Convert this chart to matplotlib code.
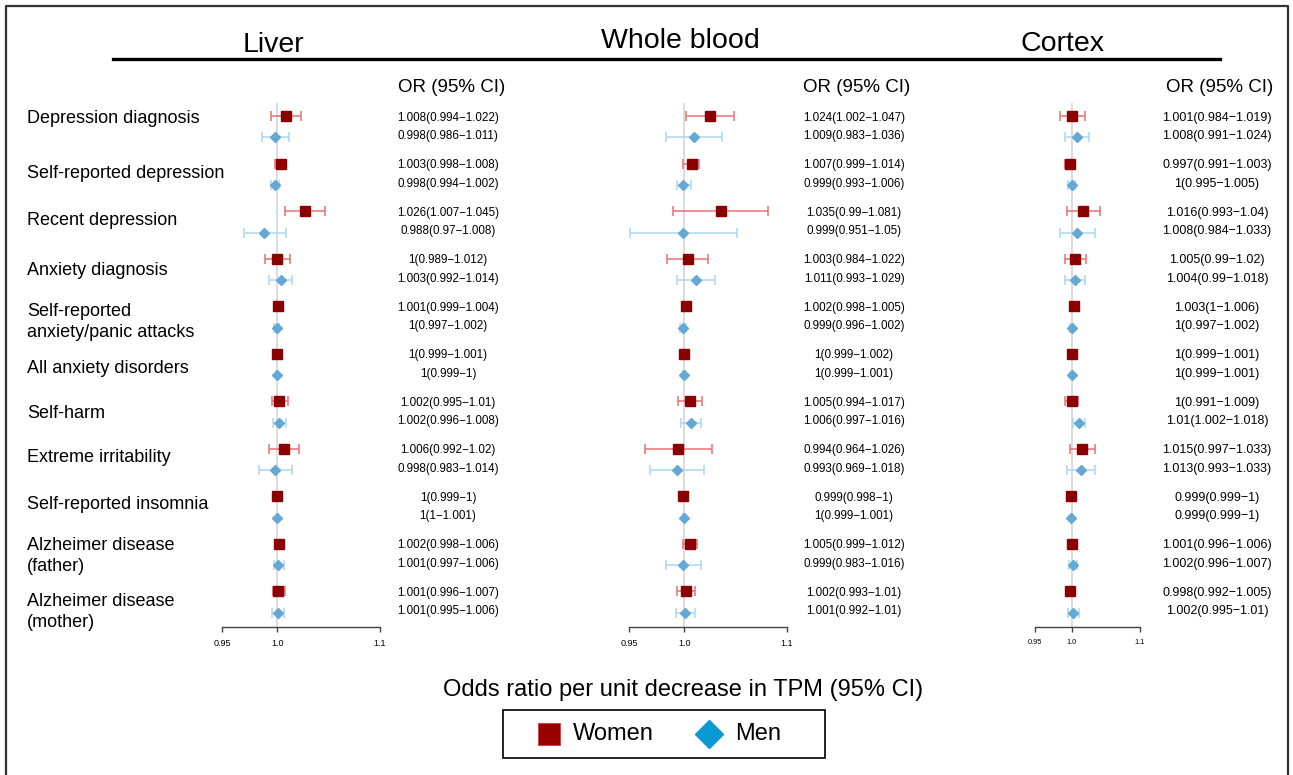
import numpy as np
import matplotlib
matplotlib.use('Agg')
import matplotlib.pyplot as plt
from matplotlib.lines import Line2D
from matplotlib.patches import Rectangle
from matplotlib import transforms

plt.rcParams['font.family'] = ['Liberation Sans', 'DejaVu Sans']

W, H = 1293, 775

outcomes = ["Depression diagnosis", "Self-reported depression", "Recent depression",
            "Anxiety diagnosis", "Self-reported\nanxiety/panic attacks", "All anxiety disorders",
            "Self-harm", "Extreme irritability", "Self-reported insomnia",
            "Alzheimer disease\n(father)", "Alzheimer disease\n(mother)"]

# Liver
liver_w_or = [1.008, 1.003, 1.026, 1, 1.001, 1, 1.002, 1.006, 1, 1.002, 1.001]
liver_w_lo = [0.994, 0.998, 1.007, 0.989, 0.999, 0.999, 0.995, 0.992, 0.999, 0.998, 0.996]
liver_w_hi = [1.022, 1.008, 1.045, 1.012, 1.004, 1.001, 1.01, 1.02, 1, 1.006, 1.007]
liver_m_or = [0.998, 0.998, 0.988, 1.003, 1, 1, 1.002, 0.998, 1, 1.001, 1.001]
liver_m_lo = [0.986, 0.994, 0.97, 0.992, 0.997, 0.999, 0.996, 0.983, 1, 0.997, 0.995]
liver_m_hi = [1.011, 1.002, 1.008, 1.014, 1.002, 1, 1.008, 1.014, 1.001, 1.006, 1.006]

# Whole blood
blood_w_or = [1.024, 1.007, 1.035, 1.003, 1.002, 1, 1.005, 0.994, 0.999, 1.005, 1.002]
blood_w_lo = [1.002, 0.999, 0.99, 0.984, 0.998, 0.999, 0.994, 0.964, 0.998, 0.999, 0.993]
blood_w_hi = [1.047, 1.014, 1.081, 1.022, 1.005, 1.002, 1.017, 1.026, 1, 1.012, 1.01]
blood_m_or = [1.009, 0.999, 0.999, 1.011, 0.999, 1, 1.006, 0.993, 1, 0.999, 1.001]
blood_m_lo = [0.983, 0.993, 0.951, 0.993, 0.996, 0.999, 0.997, 0.969, 0.999, 0.983, 0.992]
blood_m_hi = [1.036, 1.006, 1.05, 1.029, 1.002, 1.001, 1.016, 1.018, 1.001, 1.016, 1.01]

# Cortex
cortex_w_or = [1.001, 0.997, 1.016, 1.005, 1.003, 1, 1, 1.015, 0.999, 1.001, 0.998]
cortex_w_lo = [0.984, 0.991, 0.993, 0.99, 1, 0.999, 0.991, 0.997, 0.999, 0.996, 0.992]
cortex_w_hi = [1.019, 1.003, 1.04, 1.02, 1.006, 1.001, 1.009, 1.033, 1, 1.006, 1.005]
cortex_m_or = [1.008, 1, 1.008, 1.004, 1, 1, 1.01, 1.013, 0.999, 1.002, 1.002]
cortex_m_lo = [0.991, 0.995, 0.984, 0.99, 0.997, 0.999, 1.002, 0.993, 0.999, 0.996, 0.995]
cortex_m_hi = [1.024, 1.005, 1.033, 1.018, 1.002, 1.001, 1.018, 1.033, 1, 1.007, 1.01]

xticks = [0.95, 1.0, 1.1]
xtick_labels = ["0.95", "1.0", "1.1"]

panels = [
    # name, data, axis left/right px, text x, header x, title x, title baseline, tick fs, text fs
    ("Liver", (liver_w_or, liver_w_lo, liver_w_hi, liver_m_or, liver_m_lo, liver_m_hi),
     222, 380, 448, 452, 273, 52, 6.5, 8.4),
    ("Whole blood", (blood_w_or, blood_w_lo, blood_w_hi, blood_m_or, blood_m_lo, blood_m_hi),
     629, 787, 854, 857, 680, 48, 6.5, 8.4),
    ("Cortex", (cortex_w_or, cortex_w_lo, cortex_w_hi, cortex_m_or, cortex_m_lo, cortex_m_hi),
     1035, 1140, 1217, 1220, 1063, 51, 5.3, 9.0),
]

# small vertical nudges (in row units) so the left labels sit like the original
label_nudge = np.array([-8.75, -1.25, -1.75, 0.75, 5.25, 3.75, 1.25, -2.25, -2.75, 1.75, 10.25]) / 47.5

women_col = '#8B0000'
women_ci = '#E87272'
men_col = '#64A8D6'
men_ci = '#A9D7F4'


def fx(x):
    return x / W


def fy(y):
    return 1 - y / H


def fmt(v):
    return '%g' % v


fig = plt.figure(figsize=(W / 100, H / 100), dpi=100)

group = np.arange(len(outcomes))
women_y = group - 0.226
men_y = group + 0.226
axis_top, axis_bottom = 103, 627

for name, data, x0, x1, tx, hx, title_x, title_y, tick_fs, text_fs in panels:
    w_or, w_lo, w_hi, m_or, m_lo, m_hi = [np.array(d) for d in data]
    ax = fig.add_axes([fx(x0), fy(axis_bottom), (x1 - x0) / W, (axis_bottom - axis_top) / H])
    ax.set_xscale('log')
    ax.set_xlim(0.95, 1.1)
    ax.set_ylim(10.53, -0.5)
    ax.axvline(1.0, color='#D9D9D9', lw=1.3, zorder=0)

    eb = ax.errorbar(w_or, women_y, xerr=[w_or - w_lo, w_hi - w_or], fmt='s', color=women_col,
                     ms=7.2, ecolor=women_ci, elinewidth=1.1, capsize=3.6, capthick=1.1, zorder=3)
    for a in eb.get_children():
        a.set_clip_on(False)
    eb = ax.errorbar(m_or, men_y, xerr=[m_or - m_lo, m_hi - m_or], fmt='D', color=men_col,
                     ms=4.8, ecolor=men_ci, elinewidth=1.1, capsize=3.6, capthick=1.1, zorder=3)
    for a in eb.get_children():
        a.set_clip_on(False)

    for s in ['left', 'top', 'right']:
        ax.spines[s].set_visible(False)
    ax.spines['bottom'].set_color('#444444')
    ax.spines['bottom'].set_linewidth(1.0)
    ax.set_yticks([])
    ax.set_xticks(xticks)
    ax.set_xticklabels(xtick_labels)
    ax.xaxis.set_minor_locator(matplotlib.ticker.NullLocator())
    ax.tick_params(axis='x', length=3.8, width=1.0, color='#444444', labelsize=tick_fs, pad=4.5)

    trans = transforms.blended_transform_factory(fig.transFigure, ax.transData)
    for i in range(len(outcomes)):
        ax.text(fx(tx), women_y[i] + 0.04, f"{fmt(w_or[i])}({fmt(w_lo[i])}\u2212{fmt(w_hi[i])})",
                transform=trans, ha='center', va='center', fontsize=text_fs)
        ax.text(fx(tx), men_y[i] - 0.03, f"{fmt(m_or[i])}({fmt(m_lo[i])}\u2212{fmt(m_hi[i])})",
                transform=trans, ha='center', va='center', fontsize=text_fs)

    fig.text(fx(hx), fy(88), "OR (95% CI)", ha='center', va='center', fontsize=13.5)
    fig.text(fx(title_x), fy(title_y), name, ha='center', va='baseline', fontsize=20.5)

# outcome labels on the left
label_ax = fig.axes[0]
trans = transforms.blended_transform_factory(fig.transFigure, label_ax.transData)
for i, lab in enumerate(outcomes):
    label_ax.text(fx(27), group[i] + label_nudge[i], lab, transform=trans, ha='left',
                  va='center', fontsize=13, linespacing=1.25)

# header rule and outer frame
fig.add_artist(Line2D([fx(113), fx(1220)], [fy(59), fy(59)], color='black', lw=2.4))
fig.add_artist(Line2D([fx(6), fx(6), fx(1288), fx(1288)], [0, fy(6), fy(6), 0],
                      color='#333333', lw=1.6))

fig.text(fx(683), fy(690), "Odds ratio per unit decrease in TPM (95% CI)",
         ha='center', va='center', fontsize=17)

# legend box drawn by hand to match the original spacing
fig.add_artist(Rectangle((fx(503), fy(758)), (825 - 503) / W, (758 - 710) / H,
                         transform=fig.transFigure, facecolor='white', edgecolor='black', lw=1.2))
fig.add_artist(Line2D([fx(549)], [fy(734)], ls='none', marker='s', ms=16, color='#990000',
                      mec='#C84040', mew=0.6))
fig.text(fx(573), fy(734), "Women", ha='left', va='center', fontsize=17)
fig.add_artist(Line2D([fx(709)], [fy(734)], ls='none', marker='D', ms=14, color='#0A99D4'))
fig.text(fx(735), fy(734), "Men", ha='left', va='center', fontsize=17)

fig.savefig('out.png', dpi=100)
